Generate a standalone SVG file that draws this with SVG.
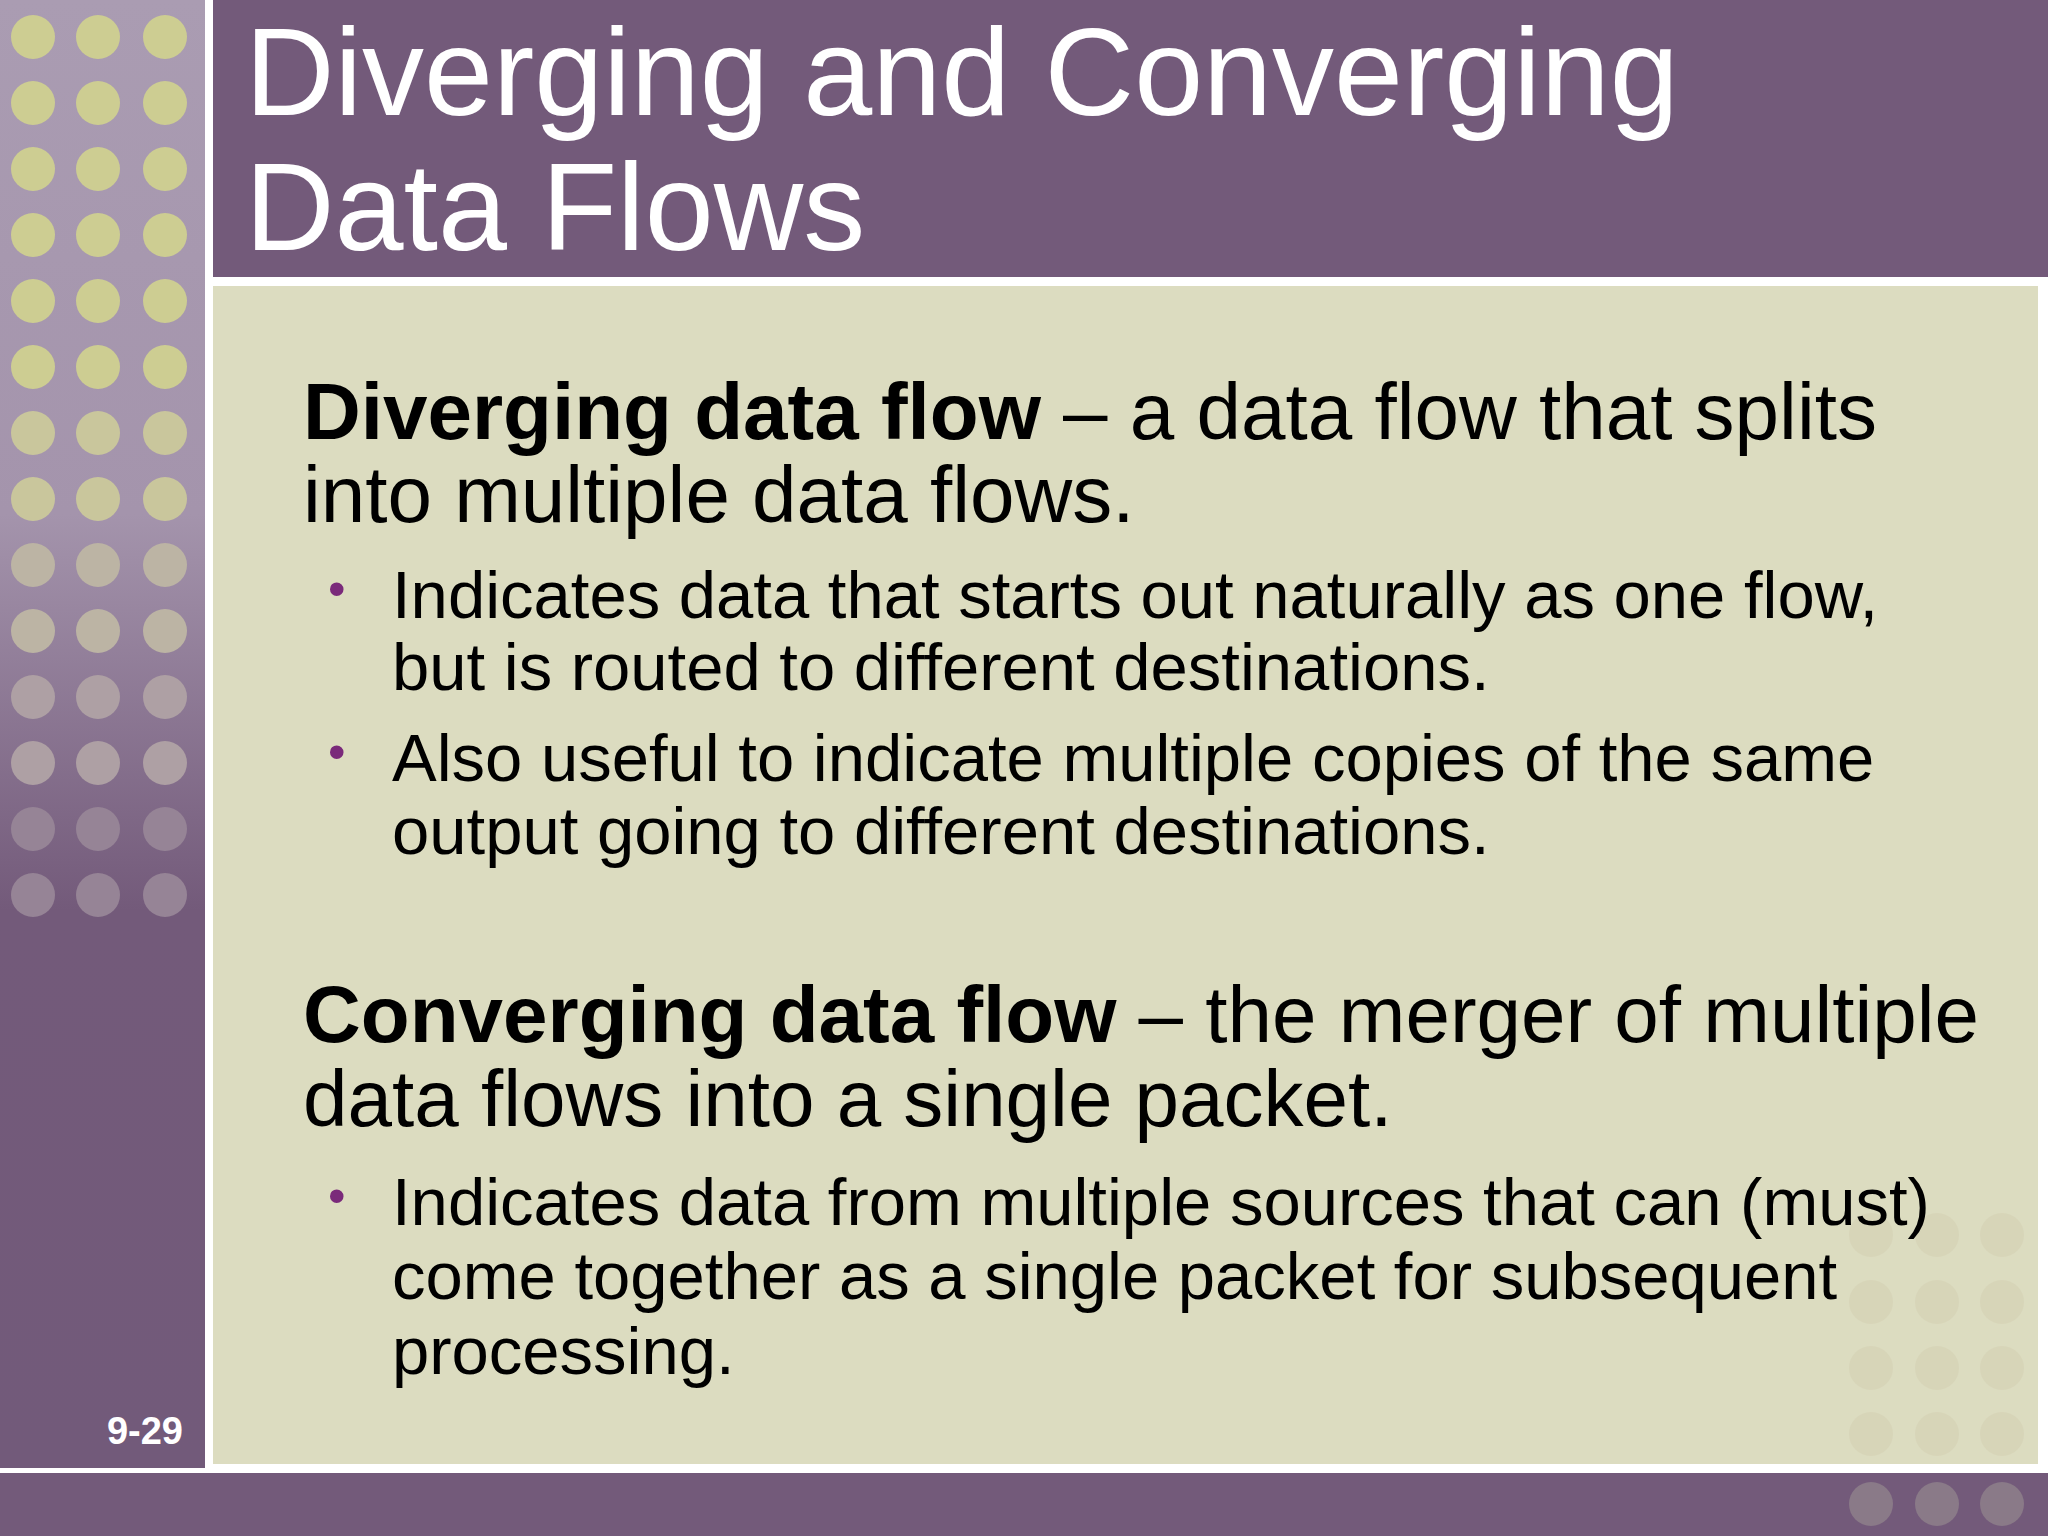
<svg xmlns="http://www.w3.org/2000/svg" width="2048" height="1536" viewBox="0 0 2048 1536">
<defs>
<linearGradient id="side" x1="0" y1="0" x2="0" y2="1">
<stop offset="0" stop-color="#aa9cb2"/><stop offset="0.35" stop-color="#a494ac"/><stop offset="0.62" stop-color="#735a7a"/><stop offset="1" stop-color="#725a7a"/>
</linearGradient>
</defs>
<style>
text{font-family:"Liberation Sans",Arial,sans-serif;}
.t{fill:#fff;font-size:124px}
.h{font-size:80px;fill:#000}
.b{font-size:67px;fill:#000}
.bu{fill:#7a2a7a;font-size:50px}
</style>
<rect width="2048" height="1536" fill="#ffffff"/>
<rect x="0" y="0" width="205" height="1468" fill="url(#side)"/>
<g id="sidedots">
<g fill="#cdcd92">
<circle cx="33" cy="37" r="22"/><circle cx="98" cy="37" r="22"/><circle cx="165" cy="37" r="22"/>
<circle cx="33" cy="103" r="22"/><circle cx="98" cy="103" r="22"/><circle cx="165" cy="103" r="22"/>
<circle cx="33" cy="169" r="22"/><circle cx="98" cy="169" r="22"/><circle cx="165" cy="169" r="22"/>
<circle cx="33" cy="235" r="22"/><circle cx="98" cy="235" r="22"/><circle cx="165" cy="235" r="22"/>
<circle cx="33" cy="301" r="22"/><circle cx="98" cy="301" r="22"/><circle cx="165" cy="301" r="22"/>
<circle cx="33" cy="367" r="22"/><circle cx="98" cy="367" r="22"/><circle cx="165" cy="367" r="22"/>
</g>
<g fill="#c9c69c">
<circle cx="33" cy="433" r="22"/><circle cx="98" cy="433" r="22"/><circle cx="165" cy="433" r="22"/>
<circle cx="33" cy="499" r="22"/><circle cx="98" cy="499" r="22"/><circle cx="165" cy="499" r="22"/>
</g>
<g fill="#bcb4a4">
<circle cx="33" cy="565" r="22"/><circle cx="98" cy="565" r="22"/><circle cx="165" cy="565" r="22"/>
<circle cx="33" cy="631" r="22"/><circle cx="98" cy="631" r="22"/><circle cx="165" cy="631" r="22"/>
</g>
<g fill="#aea0a4">
<circle cx="33" cy="697" r="22"/><circle cx="98" cy="697" r="22"/><circle cx="165" cy="697" r="22"/>
<circle cx="33" cy="763" r="22"/><circle cx="98" cy="763" r="22"/><circle cx="165" cy="763" r="22"/>
</g>
<g fill="#968496">
<circle cx="33" cy="829" r="22"/><circle cx="98" cy="829" r="22"/><circle cx="165" cy="829" r="22"/>
<circle cx="33" cy="895" r="22"/><circle cx="98" cy="895" r="22"/><circle cx="165" cy="895" r="22"/>
</g>
</g>
<rect x="213" y="0" width="1835" height="277" fill="#735a7a"/>
<rect x="213" y="286" width="1825" height="1178" fill="#dcdcc0"/>
<g fill="#d2ccae" opacity="0.4">
<circle cx="1871" cy="1235" r="22"/><circle cx="1937" cy="1235" r="22"/><circle cx="2002" cy="1235" r="22"/>
<circle cx="1871" cy="1302" r="22"/><circle cx="1937" cy="1302" r="22"/><circle cx="2002" cy="1302" r="22"/>
<circle cx="1871" cy="1368" r="22"/><circle cx="1937" cy="1368" r="22"/><circle cx="2002" cy="1368" r="22"/>
<circle cx="1871" cy="1434" r="22"/><circle cx="1937" cy="1434" r="22"/><circle cx="2002" cy="1434" r="22"/>
</g>
<rect x="0" y="1473" width="2048" height="63" fill="#735a7a"/>
<g fill="#8a7a88">
<circle cx="1871" cy="1504" r="22"/><circle cx="1937" cy="1504" r="22"/><circle cx="2002" cy="1504" r="22"/>
</g>
<text class="t" x="245" y="115">Diverging and Converging</text>
<text class="t" x="245" y="250">Data Flows</text>
<text class="h" x="303" y="439"><tspan font-weight="bold">Diverging data flow</tspan> – a data flow that splits</text>
<text class="h" x="303" y="522">into multiple data flows.</text>
<text class="bu" x="328" y="606">•</text>
<text class="b" x="392" y="618">Indicates data that starts out naturally as one flow,</text>
<text class="b" x="392" y="690">but is routed to different destinations.</text>
<text class="bu" x="328" y="769">•</text>
<text class="b" x="392" y="781">Also useful to indicate multiple copies of the same</text>
<text class="b" x="392" y="854">output going to different destinations.</text>
<text class="h" x="303" y="1042"><tspan font-weight="bold">Converging data flow</tspan> – the merger of multiple</text>
<text class="h" x="303" y="1126">data flows into a single packet.</text>
<text class="bu" x="328" y="1213">•</text>
<text class="b" x="392" y="1225">Indicates data from multiple sources that can (must)</text>
<text class="b" x="392" y="1299">come together as a single packet for subsequent</text>
<text class="b" x="392" y="1374">processing.</text>
<text x="183" y="1444" text-anchor="end" fill="#fff" font-weight="bold" font-size="38">9-29</text>
</svg>
